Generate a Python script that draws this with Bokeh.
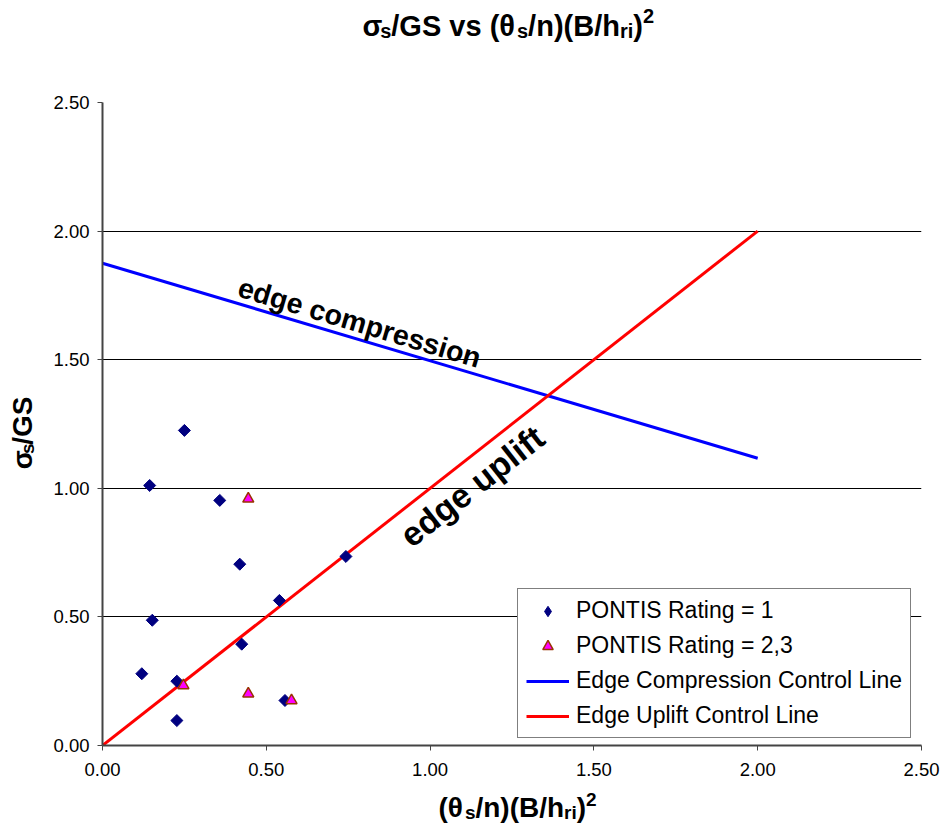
import numpy as np
from bokeh.plotting import figure
from bokeh.layouts import column, row
from bokeh.models import Range1d, FixedTicker, NumeralTickFormatter, Legend, LegendItem, Label
from bokeh.embed import file_html
from bokeh.resources import INLINE

# ---- data ----
rating1_x = [0.250, 0.144, 0.358, 0.419, 0.540, 0.152, 0.425, 0.120, 0.227, 0.557, 0.227, 0.743]
rating1_y = [1.225, 1.011, 0.953, 0.705, 0.564, 0.487, 0.394, 0.279, 0.250, 0.175, 0.097, 0.735]
rating23_x = [0.445, 0.247, 0.445, 0.577]
rating23_y = [0.959, 0.233, 0.201, 0.175]
compression_x = [0.0, 2.0]
compression_y = [1.875, 1.117]
uplift_x = [0.0, 2.0]
uplift_y = [0.0, 2.0]
x_ticks = [0.0, 0.5, 1.0, 1.5, 2.0, 2.5]
y_ticks = [0.0, 0.5, 1.0, 1.5, 2.0, 2.5]
legend_labels = ["PONTIS Rating = 1", "PONTIS Rating = 2,3",
                 "Edge Compression Control Line", "Edge Uplift Control Line"]

FONT = "Liberation Sans"

# ---- layout geometry (px) ----
W, H = 943, 836
TITLE_H = 60
YLAB_W = 46
XLAB_H = 50
MAIN_W = W - YLAB_W
MAIN_H = H - TITLE_H - XLAB_H
FRAME_BOTTOM = 745

p = figure(width=MAIN_W, height=MAIN_H, x_range=Range1d(0, 2.5), y_range=Range1d(0, 2.5),
           output_backend="svg", toolbar_location=None, title_location=None,
           min_border_left=102 - YLAB_W, min_border_right=22, min_border_top=102 - TITLE_H,
           min_border_bottom=TITLE_H + MAIN_H - FRAME_BOTTOM,
           background_fill_color="white", border_fill_color="white")
p.outline_line_color = None
p.xgrid.visible = False
p.ygrid.grid_line_color = "black"
p.ygrid.ticker = FixedTicker(ticks=y_ticks)

for ax, ticks, standoff in ((p.xaxis[0], x_ticks, 12), (p.yaxis[0], y_ticks, 8)):
    ax.ticker = FixedTicker(ticks=ticks)
    ax.formatter = NumeralTickFormatter(format="0.00")
    ax.axis_line_color = "#444444"
    ax.axis_line_width = 2
    ax.major_tick_line_color = "#444444"
    ax.major_tick_out = 5
    ax.major_tick_in = 0
    ax.minor_tick_line_color = None
    ax.major_label_text_font = FONT
    ax.major_label_text_font_size = "18.5px"
    ax.major_label_text_color = "black"
    ax.major_label_standoff = standoff

r_comp = p.line(compression_x, compression_y, line_color="#0000FF", line_width=3)
r_up = p.line(uplift_x, uplift_y, line_color="#FF0000", line_width=3)
# diamond-shaped key for the legend (hidden under the rotated squares below)
r1_key = p.scatter(rating1_x, rating1_y, marker="diamond", size=9,
                   fill_color="#000080", line_color="#000080")
r1 = p.scatter(rating1_x, rating1_y, marker="square", size=8.5, angle=np.pi / 4,
               fill_color="#000080", line_color="#000080")
r23 = p.scatter(rating23_x, rating23_y, marker="triangle", size=11,
                fill_color="#FF00FF", line_color="#993300", line_width=1.5)

legend = Legend(items=[LegendItem(label=legend_labels[0], renderers=[r1_key]),
                       LegendItem(label=legend_labels[1], renderers=[r23]),
                       LegendItem(label=legend_labels[2], renderers=[r_comp]),
                       LegendItem(label=legend_labels[3], renderers=[r_up])],
                location=(415, 7), label_text_font=FONT, label_text_font_size="23px",
                label_text_color="black",
                glyph_width=43, glyph_height=26, label_height=26, label_standoff=7,
                padding=8, spacing=8, margin=0,
                border_line_color="black", border_line_width=1,
                background_fill_color="white", background_fill_alpha=1.0)
p.add_layout(legend)

p.add_layout(Label(x=0.785, y=1.645, text="edge compression", angle=-np.arctan(
    (compression_y[0] - compression_y[1]) * 257.2 / ((compression_x[1] - compression_x[0]) * 327.6)),
    text_align="center", text_baseline="middle", text_font=FONT, text_font_style="bold",
    text_font_size="28.5px", text_color="black"))
p.add_layout(Label(x=1.128, y=1.008, text="edge uplift", angle=np.arctan(257.2 / 327.6),
                   text_align="center", text_baseline="middle", text_font=FONT,
                   text_font_style="bold", text_font_size="34px", text_color="black"))

# ---- rich text (sub/superscripts) in small text-only figures ----
BW = {' ': 0.278, '(': 0.333, ')': 0.333, '/': 0.278, '2': 0.556, 'B': 0.722, 'G': 0.778,
      'S': 0.667, 'h': 0.611, 'i': 0.278, 'n': 0.611, 'r': 0.389, 's': 0.556, 'v': 0.556,
      'σ': 0.61, 'θ': 0.61}
BASE_FIX = 10  # observed offset of the alphabetic baseline


def seg_width(txt, size):
    return sum(BW.get(c, 0.6) for c in txt) * size


def text_fig(w, h):
    f = figure(width=w, height=h, x_range=Range1d(0, w), y_range=Range1d(0, h),
               output_backend="svg", toolbar_location=None, title_location=None,
               x_axis_location=None, y_axis_location=None,
               min_border_left=0, min_border_right=0, min_border_top=0, min_border_bottom=0,
               background_fill_color="white", border_fill_color="white")
    f.outline_line_color = None
    f.grid.visible = False
    return f


def rich(f, segs, x0, y0, vertical=False):
    """x0, y0: start of the baseline in the figure's px (y from bottom)."""
    cum = 0.0
    for txt, size, d in segs:
        if vertical:
            lab = Label(x=x0 + d - BASE_FIX, y=y0 + cum, angle=np.pi / 2)
        else:
            lab = Label(x=x0 + cum, y=y0 - d + BASE_FIX)
        lab.text = txt
        lab.text_font = FONT
        lab.text_font_style = "bold"
        lab.text_font_size = f"{size}px"
        lab.text_align = "left"
        lab.text_baseline = "alphabetic"
        lab.text_color = "black"
        f.add_layout(lab)
        cum += seg_width(txt, size)


TF, TS = 29, 20
F, S = 28, 19
title_segs = [("σ", TF, 0), ("s", TS, 5), ("/GS vs (θ", TF, 0), ("s", TS, 5), ("/n)(B/h", TF, 0),
              ("ri", TS, 5), (")", TF, 0), ("2", TS, -10)]
xlab_segs = [("(θ", F, 0), ("s", S, 5), ("/n)(B/h", F, 0), ("ri", S, 5), (")", F, 0), ("2", S, -8)]
ylab_segs = [("σ", F, 0), ("s", S, 5), ("/GS", F, 0)]

title_fig = text_fig(W, TITLE_H)
rich(title_fig, title_segs, 362, TITLE_H - 35)

xlab_fig = text_fig(W, XLAB_H)
rich(xlab_fig, xlab_segs, 438, H - 817)

ylab_fig = text_fig(YLAB_W, MAIN_H)
rich(ylab_fig, ylab_segs, 32, (TITLE_H + MAIN_H) - 474, vertical=True)

layout = column(title_fig, row(ylab_fig, p, spacing=0), xlab_fig, spacing=0)

open("out.html", "w").write(file_html(layout, INLINE))
